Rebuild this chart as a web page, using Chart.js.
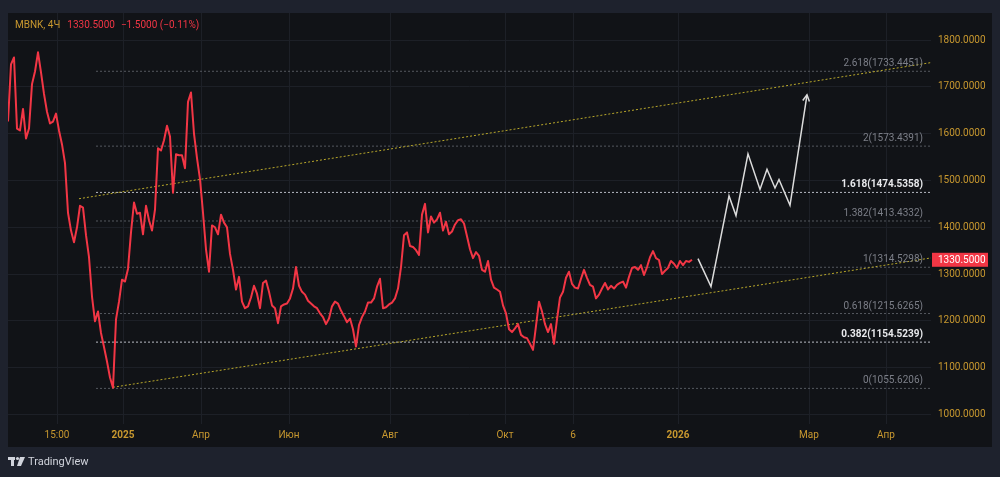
<!DOCTYPE html>
<html>
<head>
<meta charset="utf-8">
<script src="https://cdn.jsdelivr.net/npm/chart.js@4.4.1/dist/chart.umd.min.js"></script>
<style>
  html, body { margin: 0; padding: 0; background: #1e222d; }
  canvas { display: block; }
</style>
</head>
<body>
<canvas id="myChart" width="1000" height="477"></canvas>
<script>
// MBNK 4H close, one value every 3 bars
const barStep = 3;
const prices = [
  1626, 1748, 1763, 1611, 1607, 1653, 1590, 1611, 1706, 1733,
  1774, 1731, 1685, 1647, 1622, 1626, 1643, 1607, 1577, 1537,
  1431, 1393, 1368, 1400, 1446, 1442, 1383, 1336, 1252, 1199,
  1220, 1174, 1144, 1113, 1079, 1057, 1203, 1241, 1288, 1284,
  1311, 1389, 1453, 1429, 1431, 1385, 1446, 1415, 1393, 1438,
  1569, 1564, 1586, 1617, 1594, 1474, 1556, 1554, 1554, 1526,
  1668, 1688, 1600, 1548, 1503, 1431, 1353, 1305, 1404, 1400,
  1385, 1427, 1410, 1400, 1343, 1309, 1267, 1294, 1241, 1227,
  1231, 1250, 1275, 1258, 1227, 1281, 1286, 1262, 1233, 1227,
  1195, 1231, 1235, 1237, 1248, 1269, 1315, 1275, 1262, 1256,
  1243, 1237, 1231, 1227, 1216, 1208, 1193, 1205, 1231, 1241,
  1237, 1222, 1210, 1197, 1205, 1182, 1145, 1191, 1208, 1220,
  1239, 1239, 1248, 1273, 1290, 1227, 1229, 1235, 1239, 1248,
  1269, 1315, 1383, 1389, 1360, 1358, 1351, 1341, 1427, 1450,
  1389, 1423, 1410, 1417, 1431, 1393, 1412, 1385, 1391, 1406,
  1415, 1417, 1408, 1381, 1353, 1334, 1347, 1339, 1309, 1305,
  1328, 1288, 1271, 1267, 1262, 1233, 1216, 1182, 1176, 1184,
  1193, 1170, 1165, 1163, 1151, 1138, 1189, 1241, 1220, 1193,
  1176, 1193, 1151, 1203, 1250, 1262, 1292, 1305, 1279, 1271,
  1269, 1290, 1309, 1292, 1277, 1273, 1248, 1256, 1269, 1281,
  1267, 1275, 1269, 1277, 1281, 1284, 1271, 1294, 1313, 1315,
  1309, 1319, 1298, 1315, 1336, 1349, 1334, 1330, 1300, 1307,
  1313, 1328, 1322, 1313, 1328, 1319, 1328, 1326, 1330.5
];
const lastPrice = 1330.5;

// drawn forecast path (bar, price)
const projBars = [690, 703, 721, 728, 740, 752, 759, 767, 771, 782, 799];
const projPrices = [1333, 1273, 1467, 1425, 1557, 1481, 1524, 1484, 1502, 1447, 1683];

// fib extension
const fibRatios = ['0', '0.382', '0.618', '1', '1.382', '1.618', '2', '2.618'];
const fibPrices = [1055.6206, 1154.5239, 1215.6265, 1314.5298, 1413.4332, 1474.5358, 1573.4391, 1733.4451];
const fibStrong = ['0.382', '1.618'];
const fibStartBar = 88;

// channel
const upperBars = [71, 923];
const upperPrices = [1461, 1752];
const lowerBars = [105, 923];
const lowerPrices = [1058, 1334.5];

// axes
const lastBar = 923;
const timeTickBars = [49, 115, 193, 281, 382, 497, 565, 670, 801, 878];
const timeTickLabels = ['15:00', '2025', 'Апр', 'Июн', 'Авг', 'Окт', '6', '2026', 'Мар', 'Апр'];
const yearLabels = ['2025', '2026'];
const priceTicks = [1000, 1100, 1200, 1300, 1400, 1500, 1600, 1700, 1800];
const priceMin = 979.5;
const priceMax = 1858;

const gold = '#c8982f';
const red = '#f23645';
const font = 'Roboto, "Liberation Sans", sans-serif';

const pts = (xs, ys) => xs.map((x, i) => ({ x: x, y: ys[i] }));

const datasets = [];
datasets.push({
  data: prices.map((p, i) => ({ x: i * barStep, y: p })),
  borderColor: red,
  borderWidth: 2,
  borderJoinStyle: 'round',
  pointRadius: 0,
  tension: 0
});
datasets.push({
  data: pts(projBars, projPrices),
  borderColor: '#dcdcdc',
  borderWidth: 1.5,
  pointRadius: 0,
  tension: 0,
  id: 'proj'
});
datasets.push({
  data: pts(upperBars, upperPrices),
  borderColor: '#b8a72a', borderWidth: 1, borderDash: [2, 2], pointRadius: 0
});
datasets.push({
  data: pts(lowerBars, lowerPrices),
  borderColor: '#b8a72a', borderWidth: 1, borderDash: [2, 2], pointRadius: 0
});
fibPrices.forEach((p, i) => {
  const strong = fibStrong.includes(fibRatios[i]);
  datasets.push({
    data: [{ x: fibStartBar, y: p }, { x: lastBar, y: p }],
    borderColor: strong ? '#b8bbc4' : '#55585f',
    borderWidth: 1,
    borderDash: [2, 2],
    pointRadius: 0
  });
});

const decor = {
  id: 'decor',
  beforeDraw(chart) {
    const c = chart.ctx, a = chart.chartArea;
    const ys = chart.scales.y, xs = chart.scales.x;
    c.save();
    c.fillStyle = '#1e222d';
    c.fillRect(0, 0, chart.width, chart.height);
    c.fillStyle = '#111317';
    c.fillRect(a.left, a.top, ys.right - a.left, xs.bottom - a.top);
    c.restore();
  },
  afterDatasetsDraw(chart) {
    const c = chart.ctx, a = chart.chartArea;
    const x = chart.scales.x, y = chart.scales.y;
    c.save();

    // fib labels
    c.textAlign = 'right';
    c.textBaseline = 'alphabetic';
    fibPrices.forEach((p, i) => {
      const strong = fibStrong.includes(fibRatios[i]);
      c.font = (strong ? 'bold ' : '') + '10px ' + font;
      c.fillStyle = strong ? '#e8e9ec' : '#7c7f88';
      c.fillText(fibRatios[i] + '(' + p.toFixed(4) + ')', a.right - 8, y.getPixelForValue(p) - 5);
    });

    // arrow head of forecast
    const meta = chart.getDatasetMeta(1).data;
    const p1 = meta[meta.length - 2], p2 = meta[meta.length - 1];
    const ang = Math.atan2(p2.y - p1.y, p2.x - p1.x);
    c.strokeStyle = '#dcdcdc';
    c.lineWidth = 1.5;
    c.beginPath();
    c.moveTo(p2.x - 7 * Math.cos(ang - 0.5), p2.y - 7 * Math.sin(ang - 0.5));
    c.lineTo(p2.x, p2.y);
    c.lineTo(p2.x - 7 * Math.cos(ang + 0.5), p2.y - 7 * Math.sin(ang + 0.5));
    c.stroke();

    // last price badge
    const ly = y.getPixelForValue(lastPrice);
    c.fillStyle = red;
    c.fillRect(y.left + 1, ly - 7, 56, 14);
    c.fillStyle = '#ffffff';
    c.font = '10px ' + font;
    c.textAlign = 'left';
    c.textBaseline = 'middle';
    c.fillText(lastPrice.toFixed(4), y.left + 7, ly + 0.5);

    // header
    c.font = '10px ' + font;
    c.fillStyle = gold;
    const t1 = 'MBNK, 4Ч';
    c.fillText(t1, a.left + 7, a.top + 12);
    let tx = a.left + 7 + c.measureText(t1).width + 7;
    c.fillStyle = red;
    c.fillText('1330.5000', tx, a.top + 12);
    tx += c.measureText('1330.5000').width + 6;
    c.fillText('\u22121.5000 (\u22120.11%)', tx, a.top + 12);

    // footer logo
    const fy = chart.height - 15;
    c.fillStyle = '#d1d4dc';
    c.fillRect(a.left, fy - 5, 7, 3);
    c.fillRect(a.left + 3, fy - 5, 3, 9);
    c.beginPath();
    c.arc(a.left + 9.5, fy - 3.5, 1.6, 0, Math.PI * 2);
    c.fill();
    c.beginPath();
    c.moveTo(a.left + 12, fy - 5);
    c.lineTo(a.left + 17, fy - 5);
    c.lineTo(a.left + 13, fy + 4);
    c.lineTo(a.left + 9, fy + 4);
    c.closePath();
    c.fill();
    c.font = '11px ' + font;
    c.textBaseline = 'middle';
    c.fillText('TradingView', a.left + 20, fy);
    c.restore();
  }
};

new Chart(document.getElementById('myChart').getContext('2d'), {
  type: 'line',
  data: { datasets: datasets },
  options: {
    responsive: false,
    devicePixelRatio: 1,
    animation: false,
    layout: { padding: { left: 8, top: 8, right: 8, bottom: 30 } },
    plugins: { legend: { display: false }, tooltip: { enabled: false } },
    scales: {
      x: {
        type: 'linear',
        min: 0,
        max: lastBar,
        afterBuildTicks: (s) => { s.ticks = timeTickBars.map(v => ({ value: v })); },
        afterFit: (s) => { s.height = 23; },
        grid: { color: '#1d2027', drawTicks: false },
        border: { display: false },
        ticks: {
          autoSkip: false,
          maxRotation: 0,
          padding: 5,
          color: gold,
          font: (ctx) => ({
            family: font, size: 10,
            weight: ctx.tick && yearLabels.includes(ctx.tick.label) ? 'bold' : 'normal'
          }),
          callback: (v) => timeTickLabels[timeTickBars.indexOf(v)]
        }
      },
      y: {
        position: 'right',
        min: priceMin,
        max: priceMax,
        afterBuildTicks: (s) => { s.ticks = priceTicks.map(v => ({ value: v })); },
        afterFit: (s) => { s.width = 61; },
        grid: { color: '#1d2027', drawTicks: false },
        border: { display: false },
        ticks: {
          padding: 7,
          color: gold,
          font: { family: font, size: 10 },
          callback: (v) => v.toFixed(4)
        }
      }
    }
  },
  plugins: [decor]
});
</script>
</body>
</html>
